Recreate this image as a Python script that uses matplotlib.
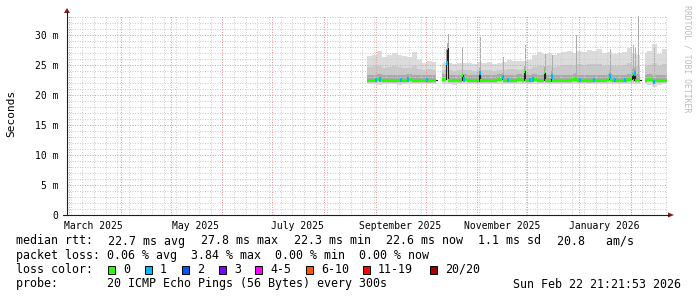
"""SmokePing style 360 day latency graph (median rtt + smoke + loss colours)."""
import numpy as np
import matplotlib
matplotlib.use("Agg")
import matplotlib.pyplot as plt
import matplotlib.dates as mdates
from matplotlib.patches import Polygon, Rectangle
from matplotlib.lines import Line2D
from datetime import datetime, timedelta

plt.rcParams['font.family'] = ['DejaVu Sans Mono', 'DejaVu Sans']

# time window of the graph
end_time = datetime(2026, 2, 22, 21, 21, 53)
start_time = end_time - timedelta(days=360)

block_start = datetime(2025, 8, 27)
block_days = 3
median_base = [22.5, 22.5, 22.6, 22.5, 22.5, 22.4, 22.5, 22.5, 22.6, 22.5,
               22.5, 22.5, 22.4, 22.5, 22.5, 22.6, 22.5, 22.5, 22.5, 22.6,
               22.5, 22.5, 22.4, 22.5, 22.5, 22.5, 22.6, 22.5, 22.5, 22.5,
               22.6, 22.5, 22.5, 22.6, 22.5, 22.5, 22.4, 22.5, 22.5, 22.5,
               22.5, 22.6, 22.5, 22.5, 22.4, 22.5, 22.5, 22.5, 22.6, 22.5,
               22.5, 22.5, 22.6, 22.5, 22.5, 22.5, 22.6, 22.5, 22.4, 22.5]
smoke_hi = [26.5, 26.7, 27.3, 26.3, 26.6, 27.0, 26.7, 26.5, 26.3, 27.1,
            25.9, 25.3, 25.7, 25.5, 25.4, 25.3, 25.4, 25.2, 25.3, 25.3,
            25.4, 25.2, 25.5, 25.3, 25.5, 25.2, 25.4, 25.5, 25.8, 25.7,
            25.6, 25.6, 25.8, 26.6, 27.1, 26.9, 27.0, 26.7, 27.0, 27.2,
            27.3, 27.0, 27.4, 27.2, 27.5, 27.4, 27.6, 27.0, 27.1, 26.8,
            27.0, 27.2, 27.9, 27.0, 26.7, 27.0, 27.3, 28.5, 26.8, 27.6]
smoke_mid = [24.6, 24.8, 24.9, 24.5, 24.6, 24.8, 24.7, 24.5, 24.5, 24.9,
             24.4, 24.1, 24.3, 24.2, 24.2, 24.2, 24.1, 24.0, 24.1, 24.2,
             24.1, 24.0, 24.2, 24.1, 24.2, 24.0, 24.1, 24.2, 24.3, 24.3,
             24.2, 24.3, 24.4, 24.7, 24.9, 24.8, 24.8, 24.7, 24.9, 25.0,
             25.0, 24.9, 25.1, 25.0, 25.1, 25.1, 25.2, 24.9, 25.0, 24.8,
             24.9, 25.0, 25.3, 24.9, 24.8, 24.9, 25.0, 25.4, 24.8, 25.1]
smoke_lo = [21.8, 21.8, 21.7, 21.8, 21.8, 21.8, 21.7, 21.8, 21.8, 21.8,
            21.8, 21.8, 21.8, 21.8, 21.8, 21.8, 21.8, 21.7, 21.8, 21.8,
            21.8, 21.8, 21.8, 21.8, 21.8, 21.8, 21.8, 21.8, 21.8, 21.8,
            21.8, 21.8, 21.8, 21.8, 21.8, 21.8, 21.8, 21.8, 21.8, 21.8,
            21.8, 21.8, 21.8, 21.8, 21.8, 21.8, 21.8, 21.8, 21.8, 21.8,
            21.8, 21.8, 21.8, 21.8, 21.8, 21.8, 21.7, 21.3, 21.6, 21.8]

# short latency spikes
spike_dates = [datetime(2025, 10, 13, 10), datetime(2025, 10, 14, 5), datetime(2025, 10, 23, 0),
               datetime(2025, 11, 2, 16), datetime(2025, 11, 16, 12), datetime(2025, 11, 29, 16),
               datetime(2025, 12, 11, 16), datetime(2025, 12, 15, 22), datetime(2025, 12, 30, 8),
               datetime(2026, 1, 19, 16), datetime(2026, 2, 2, 12), datetime(2026, 2, 3, 16),
               datetime(2026, 2, 5, 12), datetime(2026, 2, 15, 0)]
spike_median = [25.3, 27.8, 23.3, 23.7, 23.0, 24.0, 23.7, 23.1, 22.7, 23.1, 23.4, 23.6, 22.6, 22.2]
spike_top = [27.6, 30.2, 28.0, 29.6, 26.3, 28.3, 26.8, 26.6, 30.0, 27.6, 28.3, 28.0, 33.2, 27.8]
spike_loss = [1, 0, 0, 1, 1, 0, 0, 1, 0, 1, 0, 1, 0, 1]

# single lost packet markers on the baseline
loss1_dates = [datetime(2025, 9, 1, 7), datetime(2025, 9, 3, 17), datetime(2025, 9, 16, 2),
               datetime(2025, 9, 20, 12), datetime(2025, 10, 1, 17), datetime(2025, 10, 24, 2),
               datetime(2025, 11, 19, 12), datetime(2025, 12, 2, 17), datetime(2025, 12, 4, 12),
               datetime(2026, 1, 1, 17), datetime(2026, 1, 10, 2), datetime(2026, 1, 22, 17),
               datetime(2026, 1, 28, 17)]

# no data
gaps = [(datetime(2025, 10, 8, 12), datetime(2025, 10, 11, 0)),
        (datetime(2026, 2, 7, 18), datetime(2026, 2, 9, 12))]

x_label_dates = [datetime(2025, 3, 16), datetime(2025, 5, 16), datetime(2025, 7, 16),
                 datetime(2025, 9, 16), datetime(2025, 11, 16), datetime(2026, 1, 16)]
x_label_text = ["March 2025", "May 2025", "July 2025", "September 2025",
                "November 2025", "January 2026"]
y_ticks = [0, 5, 10, 15, 20, 25, 30]
y_tick_text = ["0", "5 m", "10 m", "15 m", "20 m", "25 m", "30 m"]

loss_labels = ["0", "1", "2", "3", "4-5", "6-10", "11-19", "20/20"]
loss_colors = ['#26ff00', '#00b8ff', '#0059ff', '#7e00ff', '#ff00ff', '#ff5500', '#ff0000', '#a00000']

W, H = 697, 297


def fx(x):
    return x / W


def fy(y):
    return 1 - y / H


fig = plt.figure(figsize=(W / 100, H / 100), dpi=100)
fig.patch.set_facecolor('white')
ax = fig.add_axes([fx(67), fy(215), 600 / W, 200 / H])
ax.set_facecolor('white')
for s in ax.spines.values():
    s.set_visible(False)

# expand the block data into one column per pixel (0.6 days)
col_days = 0.6
t0 = mdates.date2num(block_start)
n_cols = int(round(len(median_base) * block_days / col_days))
left = t0 + np.arange(n_cols) * col_days
blk = np.minimum((np.arange(n_cols) * col_days / block_days + 1e-9).astype(int), len(median_base) - 1)
med = np.array(median_base)[blk]
hi = np.array(smoke_hi)[blk]
mid = np.array(smoke_mid)[blk]
lo = np.array(smoke_lo)[blk]
loss = np.zeros(n_cols, dtype=int)
for d in loss1_dates:
    j = int((mdates.date2num(d) - t0) // col_days)
    loss[j] = 1
base = med.copy()
for d, m, l in zip(spike_dates, spike_median, spike_loss):
    j = int((mdates.date2num(d) - t0) // col_days)
    med[j] = m
    loss[j] = l
for g0, g1 in gaps:
    gmask = (left + col_days > mdates.date2num(g0)) & (left < mdates.date2num(g1))
    for arr in (med, hi, mid, lo):
        arr[gmask] = np.nan

xe = np.append(left, left[-1] + col_days)


def ext(a):
    return np.append(a, a[-1])


# smoke
ax.fill_between(xe, ext(lo), ext(hi), step='post', color='#dcdcdc', lw=0, zorder=1)
ax.fill_between(xe, ext(med - 0.45), ext(mid), step='post', color='#c9c9c9', lw=0, zorder=1.1)
ax.fill_between(xe, ext(med - 0.3), ext(med + 0.9), step='post', color='#a9a9a9', lw=0, zorder=1.2)

# spikes
sp_x = [mdates.date2num(d) for d in spike_dates]
sp_base = [base[int((x - t0) // col_days)] for x in sp_x]
ax.bar(sp_x, np.array(spike_top) - np.array(sp_base), bottom=sp_base, width=col_days,
       align='edge', color='#acacac', lw=0, zorder=1.3)

ax.set_xlim(mdates.date2num(start_time), mdates.date2num(end_time))
ax.set_ylim(0, 200 / 6)

# grid (drawn over the smoke like rrdtool), dotted
gkw = dict(lw=0.72, ls=(0, (1, 1.5)), snap=True)
first_sunday = datetime(2025, 3, 2)
week_lines = [first_sunday + timedelta(weeks=i) for i in range(52)]
month_lines = [datetime(2025 + (2 + i) // 12, (2 + i) % 12 + 1, 1) for i in range(12)]
for w in week_lines:
    ax.axvline(mdates.date2num(w), color='#cdcdcd', zorder=2, **gkw)
for v in range(1, 34):
    if v % 5:
        ax.axhline(v, color='#cdcdcd', zorder=2, **gkw)
for m in month_lines:
    ax.axvline(mdates.date2num(m), color='#e49a9a', zorder=2.1, **gkw)
for v in y_ticks[1:]:
    ax.axhline(v, color='#e49a9a', zorder=2.1, **gkw)

ax.set_yticks(y_ticks, y_tick_text)
ax.set_xticks([mdates.date2num(d) for d in x_label_dates], x_label_text)
ax.tick_params(which='minor', length=0)
ax.tick_params(axis='x', which='major', length=0, pad=4, labelsize=7)
ax.tick_params(axis='y', which='major', length=0, pad=6, labelsize=7)

# median line and loss colours
ax.step(xe, ext(med), where='post', color='#202020', lw=0.8, zorder=3)
ax.fill_between(xe, ext(med - 0.25), ext(med + 0.25), step='post', color=loss_colors[0], lw=0, zorder=4)
sel = loss == 1
ax.bar(left[sel], 0.75, bottom=med[sel] - 0.375, width=col_days * 2, align='edge',
       color=loss_colors[1], lw=0, zorder=5)

# axes lines and arrows
axis_col = '#1f1f1f'
fig.add_artist(Line2D([fx(67), fx(67)], [fy(215), fy(12)], color=axis_col, lw=0.8))
fig.add_artist(Line2D([fx(63), fx(669)], [fy(215), fy(215)], color=axis_col, lw=0.8))
fig.add_artist(Polygon([[fx(64), fy(13)], [fx(70), fy(13)], [fx(67), fy(8)]], closed=True,
                       color='#7f1f1f', lw=0))
fig.add_artist(Polygon([[fx(668), fy(212.5)], [fx(668), fy(217.5)], [fx(674), fy(215)]], closed=True,
                       color='#7f1f1f', lw=0))

fig.text(fx(11), fy(113), "Seconds", rotation=90, ha='center', va='center', fontsize=8)
fig.text(fx(687), fy(5), "RRDTOOL / TOBI OETIKER", rotation=270, ha='center', va='top',
         fontsize=5.9, color='#bcbcbc')

# legend
lf = 8.4
row_y = [241, 255.5, 269.5, 284]
line1 = ["median rtt:", "22.7 ms avg", "27.8 ms max", "22.3 ms min", "22.6 ms now",
         "1.1 ms sd", "20.8   am/s"]
line1_x = [16, 108.5, 201, 293.5, 386, 478.5, 557]
for s, x in zip(line1, line1_x):
    fig.text(fx(x), fy(row_y[0]), s, ha='left', va='center', fontsize=lf)
fig.text(fx(16), fy(row_y[1]), "packet loss: 0.06 % avg  3.84 % max  0.00 % min  0.00 % now",
         ha='left', va='center', fontsize=lf)
fig.text(fx(16), fy(row_y[2]), "loss color:", ha='left', va='center', fontsize=lf)
box_x = [108, 145, 182, 219, 255, 306, 363, 430]
for bx, lab, c in zip(box_x, loss_labels, loss_colors):
    fig.add_artist(Rectangle((fx(bx), fy(row_y[2] + 4)), 7 / W, 8 / H, facecolor=c,
                             edgecolor='black', lw=0.7))
    fig.text(fx(bx + 15), fy(row_y[2]), lab, ha='left', va='center', fontsize=lf)
fig.text(fx(16), fy(row_y[3]), "probe:       20 ICMP Echo Pings (56 Bytes) every 300s",
         ha='left', va='center', fontsize=lf)
fig.text(fx(681), fy(row_y[3]), "Sun Feb 22 21:21:53 2026", ha='right', va='center', fontsize=lf)

fig.savefig("out.png", dpi=100)
